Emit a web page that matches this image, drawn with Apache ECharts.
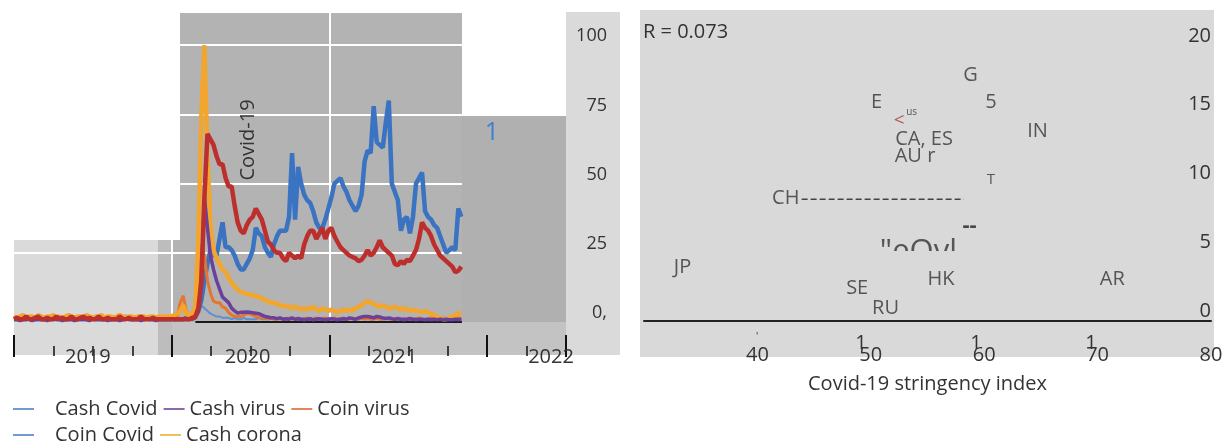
<!DOCTYPE html>
<html>
<head>
<meta charset="utf-8">
<script src="https://cdn.jsdelivr.net/npm/echarts@6/dist/echarts.min.js"></script>
<style>
html, body { margin: 0; padding: 0; background: #fff; }
#chart { width: 1228px; height: 441px; }
</style>
</head>
<body>
<div id="chart"></div>
<script>
// weekly search interest, index 0 = first week of 2019
const cashCovid = [
  1,1,1,1,1,1.5,1,1,1,1, 1,1,1,1.5,1,1,1,1,1,1, 1,1,1,1,1,1,1.5,1,1,1,
  1,1,1,1,1,1,1,2,1,1, 1,1,1,1,1.5,1,1,1,1,1, 1,1,1,1,1,1,1,
  1.5,1,1.5,2,4,8,15,21,26,24,
  24,30,36,27,27,26,24,21,19,19,
  21,23,26,34,32,31,27,25,23.5,28,
  31,33,33,33,38,61,37,56,50,46,
  44,43,40,36,34,34,37,41,45,50,
  51,52,49,47,44,42,40,42,46,58,
  62,61,78,65,64,63,72,80,50,47,
  44,33,37,38,32,38,50,52,54,40,
  38,37,35,34,31,28,25,26,27,26,
  41,38
];
const coinCovid = [
  1,0.5,1,1,0.5,1,1,0.5,1,1, 0.5,1,1,0.5,1,1,1,0.5,1,1, 1,0.5,1,1,0.5,1,1,1,0.5,1,
  1,1,0.5,1,1,0.5,1,1,1,0.5, 1,1,0.5,1,1,1,0.5,1,1,0.5, 1,1,1,0.5,1,1,1,1,1.5,2,
  3,5,6,5,4,3,2.5,2,2,1.5, 1.5,1.5,1,1.5,1,1,1.5,1,1,1, 1,1.5,1,1,1,1.5,1,1,1,1.5,
  1,1,1.5,1,1,1,1.5,1,1,1, 1.5,1,1,1,1.5,1,1,1,1.5,1, 1,1,1.5,1,1,1.5,1,1,1,1,
  1.5,1,1,1,1.5,1,1,1,1,1.5, 1,1,1,1.5,1,1,1,1,1.5,1, 1,1,1,1,1.5,1,1,1,1
];
const cashVirus = [
  1,1,0.5,1,1,1,0.5,1,1,1, 1,0.5,1,1,1,1,0.5,1,1,1, 0.5,1,1,1,1,0.5,1,1,1,1,
  1,0.5,1,1,1,0.5,1,1,1,1, 1,1,0.5,1,1,1,1,0.5,1,1, 1,1,1,1,1,1,1,
  1,1,1,1.5,4,15,45,34,24,19,
  15,12,9,8,7,5,4,3.2,3.5,3.5,
  3.6,3.5,3.3,3.2,3,2.5,2,1.8,1.5,1.5,
  1.2,1.5,1,1.2,1,1.5,1,1.2,1,0.8,
  1,1.2,0.8,1,1.2,1,0.8,1,1.2,1,
  0.8,1,1.2,1,1.5,1.2,1,1.5,1.8,2,
  2,1.8,1.5,2,1.8,1.5,1.2,1.5,1.2,1,
  1.2,1,0.8,1,1.2,1,0.8,1,1,0.8,
  1,0.8,1,0.8,1,0.8,1,0.8,0.8,1,
  0.8,1
];
const coinVirus = [
  1.5,2,1.5,1,2,1.5,2,1.5,1,2, 1.5,1,2,1.5,2,1,1.5,2,1.5,1, 2,1.5,1,2,1.5,1.5,2,1,1.5,2,
  1.5,1,2,1.5,1,2,1.5,1.5,1,2, 1.5,1,1.5,2,1.5,1,1.5,1.5,1,1.5, 1.5,1.5,1.5,1.5,2,7,9.5,
  4,2,2,4,14,28,24,15,10.5,7.5,
  7,7,5.5,5,3.5,2.5,2,2,2,2.5,
  3,3,2.5,2,1.5,1.5,1.5,1,1.5,1,
  1,1.5,1,1,1.5,1,1,1.5,1,1,
  1.5,1,1,1.5,1,1,1.5,1,1,1.5,
  1,1,1.5,1,1,1.5,1,1,1.5,1,
  1.5,1,1,1.5,1,1,1.5,1,1,1,
  1.5,1,1,1,1.5,1,1,1.5,1,1,
  1,1.5,1,1,1,1.5,1,1,1,1,
  1.5,1
];
const cashCorona = [
  2,1.5,2,2.5,1.5,2,2,1.5,2.5,2, 1.5,2,2,2.5,1.5,2,1.5,2,2.5,2, 1.5,2,2,1.5,2.5,2,1.5,2,2,2.5,
  1.5,2,2,1.5,2,2.5,2,1.5,2,2, 1.5,2,2,2,1.5,2,2,1.5,2,2, 2,2,2,2.5,3,4,6,
  3,2.5,3,5,30,75,100,60,35,26,
  23,21,19,18,16,14,13,11.5,11,10.5,
  10,10,9.5,9.5,9,8.5,8,7.5,7,7,
  6.5,6,6,5.5,5.5,5,5.5,5,4.5,5,
  4.5,5,5.5,4.5,4,5,4.5,4,4.5,4,
  3.5,4,4.5,4,4.5,4,5,5.5,6,7,
  7.5,7,6.5,6,5.5,6,5.5,5,5,5.5,
  5,4.5,5,4.5,4,4.5,4,4,3.5,4,
  3.5,3,2.5,2,1.5,1,1,1.5,2,2.5,
  3,3.5
];
// red line, not named in the legend
const coinCorona = [
  1,1.5,1,1,2,1,1,1.5,2,1, 1,1.5,1,1,2,1,1.5,1,1,2, 1,1,1.5,2,1,1.5,1,1,2,1,
  1,1.5,1,1,1,2,1,1,1.5,1, 1,1,2,1,1,1,1.5,1,1,1, 1,1,1,1,1,1,1,
  1,1,1.5,2,5,15,45,68,66,64,
  60,57,57,52,49,49,42,36,33,32,
  35,37,38,41,39,37,33,29,28,26,
  25,25,23,22,25,24,23,24,23,28,
  31,33,33,30,32,34,30,33,34,31,
  29,27,26,25,24,23.5,23,22,22.5,24,
  26,24,25,27,29.5,27,26,25,24,21,
  20.5,22,21,22.5,22,24,26,30,36,34,
  33,31,28,26,24,23,22,21,20,18,
  18.5,20
];
const baseX = [2020.15, 2021.84];
const baseY = [0, 0];

// right panel: country labels placed at (stringency index, value)
const countryNames = ['JP', 'SE', 'RU', 'HK', 'AR', 'CH', 'E', 'G', '5', 'IN', 'CA, ES', 'AU r', '<', 'us', 'T', '--', '"eOvl'];
const stringency   = [33.4, 48.8, 51.3, 56.2, 71.3, 42.5, 50.5, 58.8, 60.6, 64.7, 54.7, 53.9, 52.5, 53.6, 60.6, 58.7, 54.2];
const countryValue = [3.9, 2.4, 0.9, 3.0, 3.0, 8.9, 15.9, 17.9, 15.9, 13.8, 13.2, 12.0, 14.6, 15.2, 10.3, 6.9, 5.0];
const chLeaderX = [43.9, 58.2];
const chLeaderY = [8.85, 8.85];

const FONT = '"Open Sans", "Noto Sans", sans-serif';
const TXT = '#333';

const toWeekly = arr => arr.map((v, i) => [2019 + i * 7 / 365.25, v]);

const labelLook = {
  '<':  { color: '#a3302a', fontSize: 19 },
  'us': { fontSize: 10 },
  'T':  { fontSize: 15 },
  '--': { fontSize: 22, fontWeight: 'bold', color: '#222' },
  '"eOvl': { fontSize: 31 }
};

const yearPad = { '2019': 10, '2020': 6, '2021': 28, '2022': 30 };
const yearRich = {};
Object.keys(yearPad).forEach(y => {
  yearRich['y' + y] = { padding: [0, yearPad[y], 0, 0], fontSize: 20, color: TXT, fontFamily: FONT };
});

function lineSeries(name, data, color, width) {
  return {
    name: name,
    type: 'line',
    xAxisIndex: 0,
    yAxisIndex: 0,
    data: toWeekly(data),
    symbol: 'none',
    color: color,
    lineStyle: { color: color, width: width },
    z: 2
  };
}

const chart = echarts.init(document.getElementById('chart'));

const option = {
  animation: false,
  backgroundColor: '#fff',
  textStyle: { fontFamily: FONT },
  grid: [
    { left: 14, right: 1228 - 566, top: 12, bottom: 441 - 322 },
    { left: 644, right: 1228 - 1211, top: 46, bottom: 441 - 321 }
  ],
  xAxis: [
    {
      gridIndex: 0, type: 'value', position: 'bottom', min: 2019, max: 2022.5, interval: 0.5,
      axisLine: { show: false }, axisTick: { show: false }, splitLine: { show: false },
      axisLabel: {
        margin: 25,
        formatter: v => {
          if (Math.abs(v - Math.floor(v) - 0.5) > 0.01) return '';
          const y = String(Math.floor(v));
          return '{y' + y + '|' + y + '}';
        },
        rich: yearRich
      }
    },
    {
      gridIndex: 0, type: 'value', position: 'bottom', min: 2019, max: 2022.5, interval: 1, offset: 13,
      axisLine: { show: false },
      axisTick: { show: true, length: 22, lineStyle: { color: '#111', width: 2 } },
      axisLabel: { show: false },
      splitLine: {
        show: true,
        lineStyle: { width: 2, color: ['rgba(0,0,0,0)', '#fff', '#fff', 'rgba(0,0,0,0)', 'rgba(0,0,0,0)'] }
      }
    },
    {
      gridIndex: 0, type: 'value', position: 'bottom', min: 2019, max: 2022.5, interval: 0.25, offset: 24,
      axisLine: { show: false },
      axisTick: { show: true, length: 10, lineStyle: { color: '#111', width: 1.5 } },
      axisLabel: { show: false }, splitLine: { show: false }
    },
    {
      gridIndex: 1, type: 'value', position: 'bottom', min: 30, max: 80, interval: 10,
      axisLine: { show: true, onZero: false, lineStyle: { color: '#222', width: 2 } },
      axisTick: { show: false }, splitLine: { show: false },
      axisLabel: { showMinLabel: false, margin: 24, fontSize: 20, color: TXT },
      name: 'Covid-19 stringency index', nameLocation: 'middle', nameGap: 53,
      nameTextStyle: { fontSize: 20, color: TXT }
    }
  ],
  yAxis: [
    {
      gridIndex: 0, type: 'value', position: 'right', min: 0, max: 112, interval: 25,
      axisLine: { show: false }, axisTick: { show: false },
      axisLabel: {
        showMaxLabel: false, align: 'right', verticalAlign: 'bottom', margin: 41,
        fontSize: 18, color: TXT,
        formatter: v => v === 0 ? '0,' : String(v)
      },
      splitLine: {
        show: true,
        lineStyle: { width: 2, color: ['rgba(0,0,0,0)', '#fff', '#fff', '#fff', '#fff', 'rgba(0,0,0,0)'] }
      }
    },
    {
      gridIndex: 1, type: 'value', position: 'right', min: 0, max: 20, interval: 5,
      axisLine: { show: false }, axisTick: { show: false }, splitLine: { show: false },
      axisLabel: { align: 'right', verticalAlign: 'bottom', margin: 0, fontSize: 20, color: TXT }
    }
  ],
  legend: [
    {
      left: 8, top: 394, icon: 'rect', itemWidth: 21, itemHeight: 2, itemGap: 6,
      selectedMode: false,
      textStyle: { fontSize: 20, color: TXT, rich: { g: { width: 16 } } },
      formatter: n => n === 'Cash Covid' ? '{g|}' + n : n,
      data: [
        { name: 'Cash Covid', itemStyle: { color: '#7399d0' } },
        { name: 'Cash virus', itemStyle: { color: '#8a6aae' } },
        { name: 'Coin virus', itemStyle: { color: '#e6845a' } }
      ]
    },
    {
      left: 8, top: 420, icon: 'rect', itemWidth: 21, itemHeight: 2, itemGap: 6,
      selectedMode: false,
      textStyle: { fontSize: 20, color: TXT, rich: { g: { width: 16 } } },
      formatter: n => n === 'Coin Covid' ? '{g|}' + n : n,
      data: [
        { name: 'Coin Covid', itemStyle: { color: '#7399d0' } },
        { name: 'Cash corona', itemStyle: { color: '#f3bf5e' } }
      ]
    }
  ],
  graphic: [
    // panel backgrounds
    { type: 'rect', z: -1, shape: { x: 14, y: 240, width: 144, height: 115 }, style: { fill: '#dadada' } },
    { type: 'rect', z: -1, shape: { x: 158, y: 240, width: 14, height: 115 }, style: { fill: '#bdbdbd' } },
    { type: 'rect', z: -1, shape: { x: 180, y: 13, width: 282, height: 227 }, style: { fill: '#b3b3b3' } },
    { type: 'rect', z: -1, shape: { x: 172, y: 240, width: 290, height: 82 }, style: { fill: '#b3b3b3' } },
    { type: 'rect', z: -1, shape: { x: 172, y: 322, width: 394, height: 33 }, style: { fill: '#c3c3c3' } },
    { type: 'rect', z: -1, shape: { x: 566, y: 12, width: 54, height: 343 }, style: { fill: '#dadada' } },
    { type: 'rect', z: 1, shape: { x: 462, y: 116, width: 104, height: 206 }, style: { fill: '#b0b0b0' } },
    { type: 'rect', z: -1, shape: { x: 640, y: 10, width: 574, height: 347 }, style: { fill: '#d9d9d9' } },
    // annotations
    { type: 'text', z: 100, x: 248, y: 140, rotation: Math.PI / 2,
      style: { text: 'Covid-19', font: '20px ' + FONT, fill: '#333', align: 'center', verticalAlign: 'middle' } },
    { type: 'text', z: 100, x: 492, y: 133,
      style: { text: '1', font: '25px ' + FONT, fill: '#3f7fcb', align: 'center', verticalAlign: 'middle' } },
    { type: 'text', z: 100, x: 643, y: 32,
      style: { text: 'R = 0.073', font: '20px ' + FONT, fill: TXT, align: 'left', verticalAlign: 'middle' } },
    { type: 'text', z: 100, x: 861, y: 343,
      style: { text: '1', font: '20px ' + FONT, fill: TXT, align: 'center', verticalAlign: 'middle' } },
    { type: 'text', z: 100, x: 976, y: 343,
      style: { text: '1', font: '20px ' + FONT, fill: TXT, align: 'center', verticalAlign: 'middle' } },
    { type: 'text', z: 100, x: 1091, y: 343,
      style: { text: '1', font: '20px ' + FONT, fill: TXT, align: 'center', verticalAlign: 'middle' } },
    { type: 'text', z: 100, x: 757, y: 337,
      style: { text: "'", font: '10px ' + FONT, fill: TXT, align: 'center', verticalAlign: 'middle' } },
    // cut-off text below the "--" mark
    { type: 'rect', z: 100, shape: { x: 860, y: 251, width: 125, height: 16 }, style: { fill: '#d9d9d9' } }
  ],
  series: [
    {
      name: 'baseline', type: 'line', xAxisIndex: 0, yAxisIndex: 0, symbol: 'none', silent: true,
      data: baseX.map((x, i) => [x, baseY[i]]),
      lineStyle: { color: '#1a1a1a', width: 2 }, z: 2
    },
    lineSeries('Coin Covid', coinCovid, '#5d8fd4', 2),
    lineSeries('Cash Covid', cashCovid, '#3a73c2', 4.5),
    lineSeries('Coin virus', coinVirus, '#e5762d', 3),
    lineSeries('Cash corona', cashCorona, '#f2a62d', 4.5),
    lineSeries('Cash virus', cashVirus, '#6b3f9c', 3.5),
    lineSeries('Coin corona', coinCorona, '#bd2f2c', 4.5),
    {
      name: 'leader', type: 'line', xAxisIndex: 3, yAxisIndex: 1, symbol: 'none', silent: true,
      data: chLeaderX.map((x, i) => [x, chLeaderY[i]]),
      lineStyle: { color: '#444', width: 1.5, type: [6, 3] }
    },
    {
      name: 'countries', type: 'scatter', xAxisIndex: 3, yAxisIndex: 1, silent: true,
      symbolSize: 1, itemStyle: { color: 'rgba(0,0,0,0)' },
      data: countryNames.map((n, i) => {
        const look = labelLook[n] || {};
        return {
          name: n,
          value: [stringency[i], countryValue[i]],
          label: {
            show: true, position: 'inside', formatter: n,
            fontSize: look.fontSize || 20, color: look.color || TXT,
            fontWeight: look.fontWeight || 'normal', fontFamily: FONT
          }
        };
      }),
      z: 3
    }
  ]
};

chart.setOption(option);
</script>
</body>
</html>
